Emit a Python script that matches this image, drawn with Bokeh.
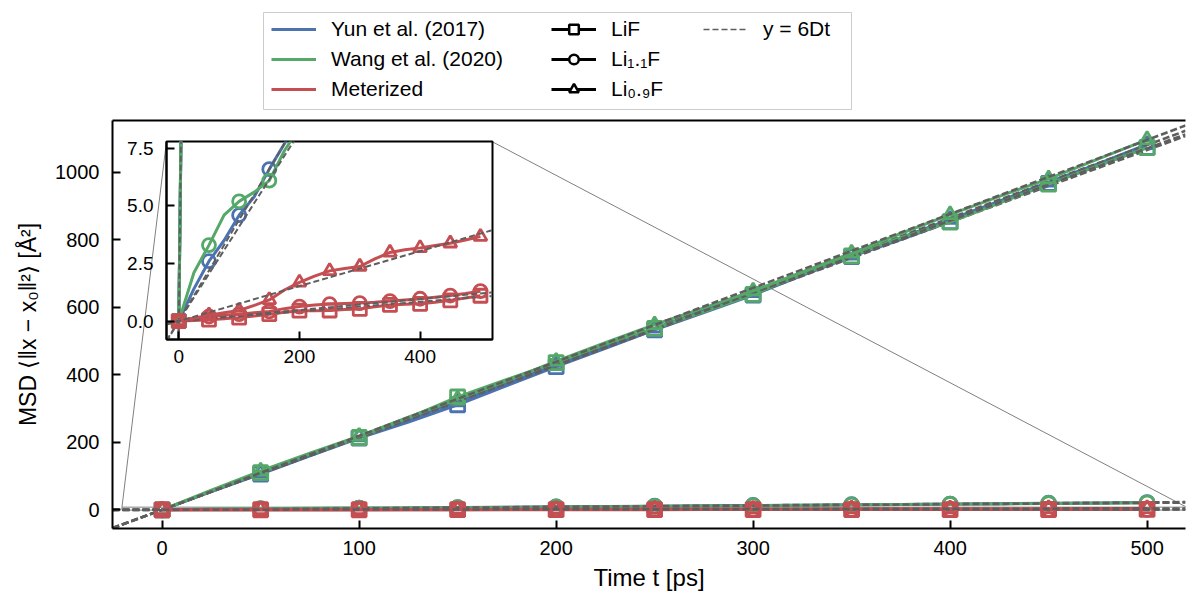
from bokeh.plotting import figure
from bokeh.models import Range1d, Legend, LegendItem, FixedTicker, LinearAxis
from bokeh.layouts import column
from bokeh.embed import file_html
from bokeh.resources import INLINE

FONT = "Liberation Sans"

# ---------------- data ----------------
time_ps = [0, 25, 50, 75, 100, 125, 150, 175, 200, 225, 250,
           275, 300, 325, 350, 375, 400, 425, 450, 475, 500]

yun_lif = [0, 54, 106, 160, 212, 260, 311, 368, 424, 478, 533,
           584, 636, 694, 750, 800, 853, 910, 966, 1018, 1073]
yun_li11f = [0, 1.4, 2.6, 3.5, 4.6, 5.4, 6.6, 7.7, 8.8, 9.8, 10.8,
             11.8, 12.9, 13.8, 14.9, 15.9, 17.0, 18.1, 19.3, 20.3, 21.4]
yun_li09f = [0, 55, 109, 163, 216, 268, 320, 374, 430, 484, 538,
             590, 643, 698, 754, 806, 860, 914, 970, 1024, 1082]

wang_lif = [0, 56, 110, 165, 214, 272, 334, 386, 436, 490, 537,
            586, 638, 698, 752, 806, 852, 908, 964, 1018, 1072]
wang_li11f = [0, 2.1, 3.3, 4.6, 5.2, 5.6, 6.1, 7.4, 8.4, 9.3, 10.3,
              11.3, 12.3, 13.4, 14.5, 15.4, 16.4, 17.5, 18.6, 19.6, 20.7]
wang_li09f = [0, 58, 115, 168, 218, 274, 328, 382, 440, 495, 548,
              598, 648, 704, 760, 818, 874, 928, 980, 1038, 1096]

met_lif = [0, 0.03, 0.06, 0.10, 0.15, 0.22, 0.30, 0.38, 0.45, 0.45, 0.46,
           0.50, 0.53, 0.62, 0.70, 0.73, 0.75, 0.82, 0.90, 1.00, 1.10]
met_li11f = [0, 0.12, 0.20, 0.25, 0.30, 0.36, 0.42, 0.54, 0.63, 0.70, 0.74,
             0.76, 0.78, 0.82, 0.87, 0.92, 0.97, 1.04, 1.11, 1.20, 1.30]
met_li09f = [0, 0.12, 0.25, 0.36, 0.46, 0.68, 0.92, 1.35, 1.68, 1.95, 2.18,
             2.28, 2.37, 2.70, 2.98, 3.10, 3.18, 3.28, 3.38, 3.52, 3.67]

# fitted slopes 6D  [Å^2 / ps]
fit_yun = [2.13, 0.044, 2.16]
fit_wang = [2.14, 0.041, 2.19]
fit_met = [0.0021, 0.0024, 0.0076]

models = ["Yun et al. (2017)", "Wang et al. (2020)", "Meterized"]
model_colors = ["#4C72B0", "#55A868", "#C44E52"]
compositions = ["LiF", "Li\u2081.\u2081F", "Li\u2080.\u2089F"]
comp_markers = ["square", "circle", "triangle"]
msd = [[yun_lif, yun_li11f, yun_li09f],
       [wang_lif, wang_li11f, wang_li09f],
       [met_lif, met_li11f, met_li09f]]
fits = [fit_yun, fit_wang, fit_met]
fit_label = "y = 6Dt"
fit_color = "#5e5e5e"

main_x = (-25.2, 519.5)
main_y = (-55.4, 1152.6)
main_xticks = [0, 100, 200, 300, 400, 500]
main_yticks = [0, 200, 400, 600, 800, 1000]
inset_x = (-20.4, 520.0)
inset_y = (-0.8, 7.8)
inset_xticks = [0, 200, 400]
inset_yticks = [0, 2.5, 5.0, 7.5]
inset_ytick_labels = ["0.0", "2.5", "5.0", "7.5"]
# where the inset sits, in main data coordinates
inset_place_x = (2.2, 167.5)
inset_place_y = (502.8, 1090.0)

# ---------------- layout ----------------
W, H = 1187, 594
BL, BR, BT, BB = 112, 2, 120, 66
FW, FH = W - BL - BR, H - BT - BB
sx = FW / (main_x[1] - main_x[0])
sy = FH / (main_y[1] - main_y[0])

p = figure(width=W, height=H, x_range=Range1d(*main_x), y_range=Range1d(*main_y),
           output_backend="svg", toolbar_location=None,
           min_border_left=BL, min_border_right=BR, min_border_top=BT, min_border_bottom=BB)
p.outline_line_color = None
p.grid.visible = False
p.background_fill_color = "white"

for ax in (p.xaxis[0], p.yaxis[0]):
    ax.axis_line_width = 2
    ax.axis_line_color = "black"
    ax.major_tick_in = 8
    ax.major_tick_out = 0
    ax.major_tick_line_width = 2
    ax.minor_tick_line_color = None
    ax.major_label_text_font = FONT
    ax.major_label_text_font_size = "20px"
    ax.major_label_text_color = "black"
    ax.axis_label_text_font = FONT
    ax.axis_label_text_font_style = "normal"
    ax.axis_label_text_color = "black"
p.xaxis.axis_label_text_font_size = "24px"
p.yaxis.axis_label_text_font_size = "23px"
p.xaxis.ticker = FixedTicker(ticks=main_xticks)
p.yaxis.ticker = FixedTicker(ticks=main_yticks)
p.xaxis.major_label_standoff = 12
p.xaxis.axis_label_standoff = 6
p.yaxis.major_label_standoff = 13
p.yaxis.axis_label_standoff = 11
p.xaxis.axis_label = "Time t [ps]"
p.yaxis.axis_label = "MSD \u27e8\u2016x \u2212 x\u2080\u2016\u00b2\u27e9 [\u00c5\u00b2]"

top_axis = LinearAxis(ticker=FixedTicker(ticks=[]), axis_line_width=2, axis_line_color="black",
                      major_tick_in=0, major_tick_out=0, minor_tick_in=0, minor_tick_out=0,
                      major_label_standoff=0)
p.add_layout(top_axis, "above")

# inset indicator rectangle + connectors
p.quad(left=[inset_x[0]], right=[inset_x[1]], bottom=[inset_y[0]], top=[inset_y[1]],
       fill_alpha=0, line_color="#808080", line_width=1)
p.segment(x0=[inset_place_x[0], inset_place_x[1]], y0=[inset_place_y[1], inset_place_y[1]],
          x1=[inset_x[0], inset_x[1]], y1=[inset_y[1], inset_y[1]],
          line_color="#808080", line_width=1)

# ---------------- inset figure ----------------
# left/right borders equal the main figure's so the column's frame alignment changes nothing
IL, IR, IT, IB = BL, BR, 4, 36
ifw = round((inset_place_x[1] - inset_place_x[0]) * sx)
ifh = round((inset_place_y[1] - inset_place_y[0]) * sy)
ins = figure(frame_width=ifw, frame_height=ifh, x_range=Range1d(*inset_x), y_range=Range1d(*inset_y),
             output_backend="svg", toolbar_location=None,
             min_border_left=IL, min_border_right=IR, min_border_top=IT, min_border_bottom=IB)
ins.grid.visible = False
ins.outline_line_color = "black"
ins.outline_line_width = 2
ins.border_fill_alpha = 0
ins.background_fill_color = "white"
for ax in (ins.xaxis[0], ins.yaxis[0]):
    ax.axis_line_width = 2
    ax.major_tick_in = 8
    ax.major_tick_out = 0
    ax.major_tick_line_width = 2
    ax.minor_tick_line_color = None
    ax.major_label_text_font = FONT
    ax.major_label_text_font_size = "19px"
    ax.major_label_text_color = "black"
ins.xaxis.ticker = FixedTicker(ticks=inset_xticks)
ins.yaxis.ticker = FixedTicker(ticks=inset_yticks)
ins.yaxis.major_label_overrides = {v: s for v, s in zip(inset_yticks, inset_ytick_labels)}
ins.xaxis.major_label_standoff = 10
ins.yaxis.major_label_standoff = 13

# ---------------- curves ----------------
for fig, msize, fit_lw, fit_dash, fit_x in ((p, 14, 2.5, "7 3", main_x), (ins, 13, 2, "6 3", inset_x)):
    for m in range(3):
        col = model_colors[m]
        for c in range(3):
            vals = msd[m][c]
            fig.line(time_ps, vals, line_color=col, line_width=3)
            fig.scatter(time_ps[::2], vals[::2], marker=comp_markers[c], size=msize,
                        line_color=col, line_width=2.8, fill_alpha=0)
            fig.line(list(fit_x), [fits[m][c] * x for x in fit_x], line_color=fit_color,
                     line_width=fit_lw, line_dash=fit_dash)

# ---------------- legend (its own small overlay figure) ----------------
LEG_LEFT, LEG_TOP, LEG_W, LEG_H = 263, 12, 588, 98
lf = figure(frame_width=LEG_W, frame_height=LEG_H, x_range=Range1d(0, 1), y_range=Range1d(0, 1),
            x_axis_location=None, y_axis_location=None, output_backend="svg", toolbar_location=None,
            min_border_left=BL, min_border_right=BR, min_border_top=0, min_border_bottom=0)
lf.grid.visible = False
lf.outline_line_color = "#cccccc"
lf.outline_line_width = 1
lf.background_fill_color = "white"
lf.border_fill_alpha = 0

# legend-only proxy renderers: their single point lies outside the legend figure's ranges
proxy_x, proxy_y = [-5.0], [-5.0]
col1 = []
for name, col in zip(models, model_colors):
    r = lf.line(proxy_x, proxy_y, line_color=col, line_width=3)
    col1.append(LegendItem(label=name, renderers=[r]))
col2 = []
for comp, mk in zip(compositions, comp_markers):
    r1 = lf.line(proxy_x, proxy_y, line_color="black", line_width=3)
    r2 = lf.scatter(proxy_x, proxy_y, marker=mk, size=13, line_color="black", line_width=2.5,
                    fill_color="white")
    col2.append(LegendItem(label=comp, renderers=[r1, r2]))
r = lf.line(proxy_x, proxy_y, line_color=fit_color, line_width=1.5, line_dash="6 3")
col3 = [LegendItem(label=fit_label, renderers=[r])]

PAD, ROW, SP = 7, 24, 6
col_x = [8, 288, 440]
for items, x in zip((col1, col2, col3), col_x):
    n = len(items)
    h = 2 * PAD + n * ROW + (n - 1) * SP
    leg = Legend(items=items, orientation="vertical", location=(x, LEG_H - h + 9),
                 label_text_font=FONT, label_text_font_size="21px", label_text_color="black",
                 glyph_width=45, glyph_height=ROW, label_standoff=15, label_height=ROW,
                 spacing=SP, padding=PAD, margin=0,
                 border_line_color=None, background_fill_alpha=0)
    lf.add_layout(leg, "center")

# ---------------- overlay placement ----------------
inset_left = BL + (inset_place_x[0] - main_x[0]) * sx - IL
inset_top = BT + (main_y[1] - inset_place_y[1]) * sy - IT
ins.styles = {"position": "absolute", "left": f"{inset_left:.1f}px", "top": f"{inset_top:.1f}px",
              "z-index": "5"}
lf.styles = {"position": "absolute", "left": f"{LEG_LEFT - BL}px", "top": f"{LEG_TOP}px",
             "z-index": "6"}

lay = column(p, ins, lf)
open("out.html", "w").write(file_html(lay, INLINE))
